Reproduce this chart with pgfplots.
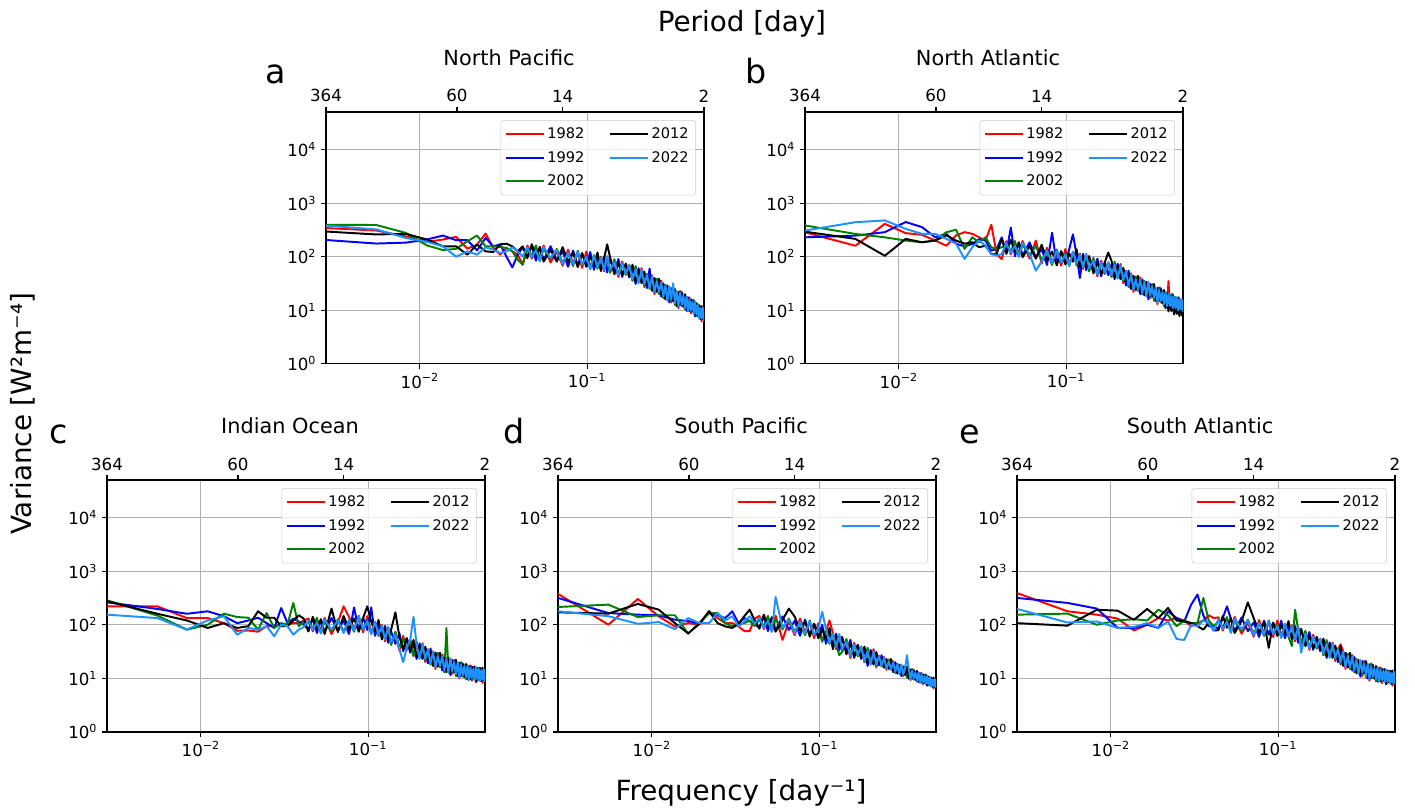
\documentclass[border=0pt]{standalone}
\usepackage{pgfplots}
\pgfplotsset{compat=1.18}
\usepackage{pgfplotstable}
\usepackage{fontspec}
\setmainfont{DejaVu Sans}
\definecolor{cR}{RGB}{255,0,0}
\definecolor{cB}{RGB}{0,0,255}
\definecolor{cG}{RGB}{0,128,0}
\definecolor{cK}{RGB}{0,0,0}
\definecolor{cL}{RGB}{30,144,255}

\pgfplotsset{
  legend image code/.code={\draw[#1] (0pt,0pt) -- (23pt,0pt); \path (0pt,0pt) -- (27pt,0pt);},
}

\pgfplotstableread{
k R B G K L
1 342 205 395 295 380
2 308 176 390 260 323
3 240 183 278 267 224
4 189 209 163 210 190
5 209 248 133 156 156
6 234 203 140 156 100
7 141 203 194 109 126
8 168 131 248 168 109
9 270 224 156 126 150
10 146 156 156 122 135
11 109 170 152 170 117
12 146 100 146 175 126
13 126 63 126 156 150
14 109 109 88 126 126
15 71 150 71 156 101
16 162 100 138 94 150
17 92 159 104 171 98
18 144 84 162 102 132
19 94 148 83 153 83
20 162 87 139 81 151
22 78 157 90 134 95
24 124 86 140 81 135
26 68 125 78 151 73
28 135 65 115 80 120
30 77 130 67 120 72
32 115 69 129 64 124
34 62 116 71 116 71
36 125 69 103 65 99
38 63 122 59 101 59
40 98 57 107 70 107
42 68 96 60 120 64
44 100 58 96 54 96
46 53 101 64 94 56
48 102 51 88 170 102
50 53 89 50 96 57
53 80 54 90 47 80
56 42 90 48 77 45
59 81 42 72 45 75
62 46 74 46 74 48
65 70 41 70 43 70
68 36 61 36 71 38
71 58 31 67 34 58
74 34 61 36 56 32
77 61 34 50 32 57
80 27 49 29 53 31
83 46 26 48 30 46
86 28 60 25 42 26
89 45 25 41 23 43
92 20 40 25 40 22
95 35 23 39 22 35
98 20 32 20 39 22
101 36 18 31 20 33
104 17 32 17 30 18
107 30 17 30 16 29
110 18 28 18 29 15
113 25 14 26 16 28
116 14 26 15 24 16
119 26 15 25 15 32
122 13.5 25 12.6 24 13.5
125 22 12 21 12 23
128 11 20 13.6 22 12
131 23 12.4 22 13 21
134 12.8 22 12 20 12.8
137 19 12.4 19 11.6 19
140 10.5 19 10.5 20 11
143 18 9.8 18 11 18
146 10 17.5 10.8 16 9.5
149 17.5 9.8 15.6 9.8 16
152 8.8 15 9.4 16 10
155 14.4 9.6 15.6 9.6 14.4
158 9.2 15.5 9.2 14.4 8.6
161 14.3 7.7 13.2 8.3 14.3
164 7.9 13 7.9 13.6 8.4
167 12 8 13 8 12.5
170 7.6 12.4 7.1 12.4 7.1
173 12 6.9 11.5 6.9 11
176 6.2 10.7 7.1 12 7.1
179 10.8 6.9 10.3 6.9 11.2
182 6.6 10.4 6.6 10.8 6.2
}\tabA

\pgfplotstableread{
k R B G K L
1 285 230 383 293 307
2 160 247 266 215 440
3 410 287 230 104 475
4 275 443 200 215 330
5 256 357 186 186 267
6 200 230 200 200 267
7 160 267 286 250 215
8 250 175 318 200 175
9 287 155 140 175 91
10 267 173 230 186 150
11 230 212 186 150 200
12 200 200 230 161 161
13 395 130 150 112 112
14 112 140 140 112 105
15 90 230 150 215 112
16 195 120 165 113 180
17 111 350 126 207 118
18 175 102 197 124 161
19 114 179 100 186 100
20 196 105 168 98 182
22 92 185 106 158 112
24 200 98 159 92 55
26 75 138 86 167 81
28 146 70 124 86 130
30 80 280 70 125 75
32 123 74 137 69 132
34 68 126 78 126 78
36 139 77 115 72 110
38 72 139 67 115 67
40 114 260 124 81 124
42 78 110 69 138 74
44 114 40 110 62 110
46 59 113 71 105 63
48 112 56 96 64 112
50 57 95 53 103 61
53 84 56 95 49 84
56 43 92 50 79 46
59 84 43 74 47 78
62 48 78 48 78 51
65 78 45 78 120 78
68 42 72 42 84 45
71 70 38 81 41 70
74 41 74 44 69 39
77 73 40 60 38 68
80 32 58 35 62 37
83 53 29 55 34 53
86 31 55 27 47 29
89 49 27 45 25 47
92 22 44 27 44 24
95 38 26 43 24 38
98 23 36 23 44 24
101 41 20 35 23 38
104 20 38 20 35 21
107 35 20 35 19 34
110 21 33 21 34 18
113 30 16 31 19 34
116 17 31 18 29 19
119 31 18 30 18 28
122 17 31 15 30 17
125 26 15 25 15 27
128 13 24 16 26 14
131 27 15 26 16 24
134 15 26 14 24 15
137 22 14 23 13.5 22
140 12 22 12 24 13
143 22 12 22 10.9 22
146 12 21 13 15.8 12
149 35 12 19 9.6 20
152 11 19 12 16 12
155 18 12 20 9.6 18
158 12 20 12 14.5 11
161 18 10 17 8.4 18
164 10.5 17.5 10.5 14.6 11
167 16 11 17.5 8.6 17
170 11 17.5 10 14 10
173 17 10 16 7.8 15.6
176 9 15.6 10.4 14 10.4
179 15.6 10 15 8 16
182 10 15.6 10 13 9.4
}\tabB

\pgfplotstableread{
k R B G K L
1 220 262 285 275 154
2 220 197 148 160 133
3 133 160 81 120 81
4 133 178 100 87 120
5 107 144 161 107 144
6 77 107 139 87 65
7 78 120 135 94 87
8 74 135 81 178 81
9 94 107 165 135 94
10 94 87 87 135 61
11 100 205 107 94 100
12 100 107 100 94 94
13 107 130 255 120 65
14 107 115 94 150 81
15 120 100 110 130 90
16 130 80 110 75 120
17 75 130 85 140 80
18 120 70 135 85 110
19 78 122 69 127 69
20 134 72 115 67 125
22 67 133 76 200 81
24 112 78 126 73 121
26 220 120 75 145 70
28 139 67 118 82 124
30 84 210 74 131 79
32 131 79 147 74 142
34 72 134 82 134 82
36 145 80 120 220 115
38 71 210 67 114 67
40 106 62 114 75 114
42 70 98 62 123 66
44 99 57 95 53 95
46 49 95 60 88 53
48 91 46 78 52 91
50 45 75 42 81 48
53 66 44 74 170 66
56 33 70 38 60 35
59 62 32 55 35 20
62 34 56 34 56 37
65 52 30 52 32 52
68 26 44 26 52 140
71 42 23 49 25 42
74 25 45 26 41 23
77 45 25 37 23 42
80 20 36 22 39 23
83 34 19 35 22 34
86 20 36 18 31 19
89 32 18 30 17 31
92 15 30 18 30 16
95 26 18 30 16.5 26
98 16 25 16 30 17
101 28 14 24 16 26
104 13 26 13 24 14
107 24 14 87 13 23
110 14 22.5 14.4 23 12.6
113 21 11.4 22 13 24
116 12 22 13 20 13.6
119 22 13 21 13 20
122 12 22 11 22 12
125 19 11 19 11 20
128 10 18 12 19.5 10.5
131 20 11 20 11.6 18
134 11.4 19 10.7 18 11.4
137 17 11 17.5 10.5 17
140 9.7 17 9.7 18.6 10.4
143 17.5 9.5 17.5 10.8 17.5
146 10 17 10.6 16 9.2
149 17.5 9.8 15.6 9.8 16
152 9 15.4 9.6 16.6 10.2
155 15 10 16.4 10 15
158 10 16.7 10 15.5 9.3
161 15.9 8.5 14.6 9.2 15.9
164 9 15 9 15.6 9.6
167 14.4 9.6 15.6 9.6 15
170 9.6 15.6 9 15.6 9
173 15.3 8.9 14.8 8.9 14.2
176 8.2 14 9.4 15.8 9.4
179 14.5 9.3 13.9 9.3 15
182 9.2 14.4 9.2 15 8.6
}\tabC

\pgfplotstableread{
k R B G K L
1 376 316 214 170 178
2 100 165 237 161 144
3 302 154 139 244 104
4 143 150 150 191 112
5 93 124 150 107 83
6 107 117 68 69 133
7 100 107 107 104 107
8 178 165 165 178 107
9 133 150 165 107 165
10 107 133 107 93 120
11 107 178 93 87 144
12 93 107 104 104 93
13 76 133 107 144 115
14 76 115 120 191 144
15 130 100 95 120 105
16 146 90 123 84 134
17 83 143 94 154 88
18 130 76 146 92 119
19 85 133 74 138 74
20 147 79 126 74 330
22 52 143 82 122 87
24 115 80 130 200 125
26 64 118 74 142 69
28 130 62 110 77 115
30 74 124 64 115 69
32 108 65 120 60 116
34 56 104 64 104 64
36 107 59 89 56 85
38 51 99 48 82 175
40 76 44 82 54 82
42 120 70 44 87 46
44 70 41 68 35 68
46 35 68 43 63 38
48 66 33 27 38 66
50 33 55 31 59 35
53 48 32 54 28 48
56 24 52 28 44 26
59 46 24 41 26 43
62 26 42 26 42 27
65 39 23 39 24 39
68 20 34 20 39 21
71 32 17 37 19 32
74 19 34 20 31 18
77 35 19 29 18 32
80 16 29 17 31 18
83 26 17.4 26.4 19 26
86 18 27 16.6 24 17.4
89 25 16.6 23.6 15.8 24
92 14.4 22.8 16.3 22.8 15
95 20.5 15.5 22.5 15 20.5
98 14.5 20 14.5 23 15
101 21 13 18.8 14.2 19.8
104 12.6 20 12.6 18.9 13.3
107 18.6 12.9 18.6 12.2 18.3
110 12.9 17.7 12.9 18 11.9
113 16.5 11 17.1 12 18.1
116 11 16.8 11.6 16 12
119 16.9 11.6 16.2 11.6 15.4
122 10.8 16.6 10.3 16.2 27
125 14.8 9.9 14.3 9.9 15
128 9.3 13.9 10.5 14.6 9.6
131 15.1 9.8 14.8 10.1 13.9
134 9.9 14.4 9.5 13.6 9.9
137 12.8 9.6 13.2 9.3 12.8
140 8.7 13 8.7 13.8 9.1
143 12.8 8.5 12.8 9.2 12.8
146 8.6 12.5 8.9 11.9 8.2
149 12.6 8.4 11.5 8.4 11.9
152 7.8 11.3 8.2 11.9 8.5
155 11 8.3 11.6 8.3 11
158 8.1 11.8 8.1 11.1 7.8
161 11 7.3 10.5 7.6 11
164 7.5 10.6 7.5 10.8 7.7
167 10 7.6 10.6 7.6 10.4
170 7.4 10.3 7.1 10.3 7.1
173 10.1 7 9.9 7 9.6
176 6.5 9.3 7.1 10.3 7.1
179 9.4 6.9 9.1 6.9 9.6
182 6.8 9.3 6.8 9.4 6.6
}\tabD

\pgfplotstableread{
k R B G K L
1 390 316 154 107 197
2 178 255 161 96 110
3 154 200 100 190 115
4 130 87 120 183 87
5 78 87 127 123 91
6 100 100 120 197 107
7 133 87 191 133 87
8 120 178 150 205 115
9 133 133 94 120 54
10 120 115 120 115 52
11 94 237 107 107 100
12 107 365 107 94 94
13 120 150 316 81 120
14 150 94 120 107 107
15 133 94 94 78 78
16 137 84 116 79 126
17 78 135 88 146 83
18 124 220 139 88 113
19 82 128 71 133 71
20 140 75 120 70 130
22 68 136 78 116 82
24 109 76 124 260 119
26 60 110 69 133 64
28 122 59 104 72 108
30 70 119 62 110 66
32 108 65 120 37 116
34 59 109 67 109 67
36 120 66 100 62 95
38 62 119 57 98 57
40 96 56 104 68 104
42 66 94 59 117 62
44 98 56 40 53 94
46 49 95 190 88 53
48 92 46 79 53 92
50 47 78 43 84 30
53 68 46 77 40 68
56 34 73 39 62 36
59 65 34 58 36 60
62 36 59 36 59 38
65 55 32 55 34 55
68 27 47 27 55 29
71 44 24 52 26 44
74 26 47 28 43 24
77 46 26 38 24 43
80 21 38 23 41 24
83 35 20 36 22 35
86 43 36 18 40 20
89 33 18 31 17 32
92 15 30 18 30 16
95 26 17 29 16 26
98 15 25 15 30 16
101 27 14 23 16 25
104 13 25 13 23 14
107 23 13 23 12.4 22
110 13.6 21 13.6 22 12
113 20 10.7 21 12.4 22
116 11 21 12 19 13
119 21 12.4 20 12.4 18.6
122 11 21 10.5 20 11
125 18 10 17.4 10 19
128 9 17 11 18 9.8
131 19 10 18.5 11 17
134 10.7 18 10 17 10.7
137 15.6 10.4 16 9.8 15.6
140 8.9 16 8.9 17 9.5
143 16 8.7 16 9.9 16
146 9 15.7 9.7 14.5 8.5
149 16 8.9 14 8.9 14.8
152 8.1 14 8.7 15 9.3
155 13.7 9.1 14.8 9.1 13.7
158 9 15 9 14 8.4
161 14.3 7.7 13.2 8.3 14.3
164 8.1 13.5 8.1 14 8.6
167 12.8 8.6 13.9 8.6 13.4
170 8.5 13.8 8 13.8 8
173 13.7 7.9 13 7.9 12.6
176 7.3 12.5 8.3 14 8.3
179 12.9 8.2 12.4 8.2 13.4
182 8.2 12.8 8.2 13.3 7.7
}\tabE

\newcommand{\drawpanel}[3]{%
\begin{axis}[at={#1}, anchor=north west, title={#2},
    scale only axis, width=272.16pt, height=181.4pt,
    xmode=log, ymode=log,
    xmin=0.0027472, xmax=0.50001, ymin=1, ymax=50000,
    xtick={0.01,0.1},
    xticklabels={10\textsuperscript{−2},10\textsuperscript{−1}},
    ytick={1,10,100,1000,10000},
    yticklabels={10\textsuperscript{0},10\textsuperscript{1},10\textsuperscript{2},10\textsuperscript{3},10\textsuperscript{4}},
    xminorticks=false, yminorticks=false,
    xtick pos=left, ytick pos=left,
    tick align=outside, major tick length=3.5pt,
    every tick/.style={black, line width=0.8pt},
    axis line style={line width=0.8pt},
    grid=major, major grid style={draw=black!31, line width=0.8pt},
    tick label style={font=\fontsize{12}{14}\selectfont},
    title style={at={(0.5,1)}, anchor=base, yshift=27.4pt, xshift=-4.3pt, font=\fontsize{15}{18}\selectfont},
    legend columns=2,
    legend cell align=left,
    legend style={at={(1,1)}, anchor=north east, xshift=-5.8pt, yshift=-5.8pt,
      draw=black!20, rounded corners=2pt, fill=white, fill opacity=0.8, text opacity=1,
      font=\fontsize{10.5}{12.5}\selectfont, inner xsep=3pt, inner ysep=3.5pt, row sep=3.5pt,
      /tikz/every even column/.append style={column sep=16pt}},
    every axis plot/.append style={line width=1.4pt, line join=round}]
\addplot[cR, forget plot] table[x expr=\thisrow{k}/364, y=R] {#3};
\addplot[cB, forget plot] table[x expr=\thisrow{k}/364, y=B] {#3};
\addplot[cG, forget plot] table[x expr=\thisrow{k}/364, y=G] {#3};
\addplot[cK, forget plot] table[x expr=\thisrow{k}/364, y=K] {#3};
\addplot[cL, forget plot] table[x expr=\thisrow{k}/364, y=L] {#3};
\addlegendimage{cR, line width=1.4pt}\addlegendentry{1982}
\addlegendimage{cK, line width=1.4pt}\addlegendentry{2012}
\addlegendimage{cB, line width=1.4pt}\addlegendentry{1992}
\addlegendimage{cL, line width=1.4pt}\addlegendentry{2022}
\addlegendimage{cG, line width=1.4pt}\addlegendentry{2002}
\end{axis}
\begin{axis}[at={#1}, anchor=north west,
    scale only axis, width=272.16pt, height=181.4pt,
    xmode=log, ymode=log, xmin=0.0027472, xmax=0.50001, ymin=1, ymax=50000,
    axis x line*=top, axis y line=none,
    xtick={0.00274726,0.0166667,0.0714286,0.5},
    xticklabels={364,60,14,2},
    xminorticks=false,
    tick align=outside, major tick length=3.5pt,
    every tick/.style={black, line width=0.8pt},
    axis line style={line width=0.8pt},
    tick label style={font=\fontsize{12}{14}\selectfont}]
\addplot[draw=none, forget plot] coordinates {(0.01,10) (0.1,100)};
\end{axis}}

\begin{document}
\begin{tikzpicture}
\useasboundingbox (0pt,0pt) rectangle (1018.8pt,-582.48pt);
\drawpanel{(234.72pt,-80.64pt)}{North Pacific}{\tabA}
\drawpanel{(579.6pt,-80.64pt)}{North Atlantic}{\tabB}
\drawpanel{(77.04pt,-345.6pt)}{Indian Ocean}{\tabC}
\drawpanel{(401.76pt,-345.6pt)}{South Pacific}{\tabD}
\drawpanel{(732.24pt,-345.6pt)}{South Atlantic}{\tabE}
\node[anchor=base, font=\fontsize{20}{24}\selectfont] at (534.2pt,-22.8pt) {Period [day]};
\node[anchor=base, font=\fontsize{20}{24}\selectfont] at (533.5pt,-576pt) {Frequency [day⁻¹]};
\node[anchor=base, rotate=90, font=\fontsize{20}{24}\selectfont] at (23pt,-298pt) {Variance [W²m⁻⁴]};
\node[anchor=base, font=\fontsize{24}{28}\selectfont] at (198.7pt,-59.8pt) {a};
\node[anchor=base, font=\fontsize{24}{28}\selectfont] at (544.7pt,-59.8pt) {b};
\node[anchor=base, font=\fontsize{24}{28}\selectfont] at (42pt,-319pt) {c};
\node[anchor=base, font=\fontsize{24}{28}\selectfont] at (370pt,-319pt) {d};
\node[anchor=base, font=\fontsize{24}{28}\selectfont] at (698pt,-319pt) {e};
\end{tikzpicture}
\end{document}
